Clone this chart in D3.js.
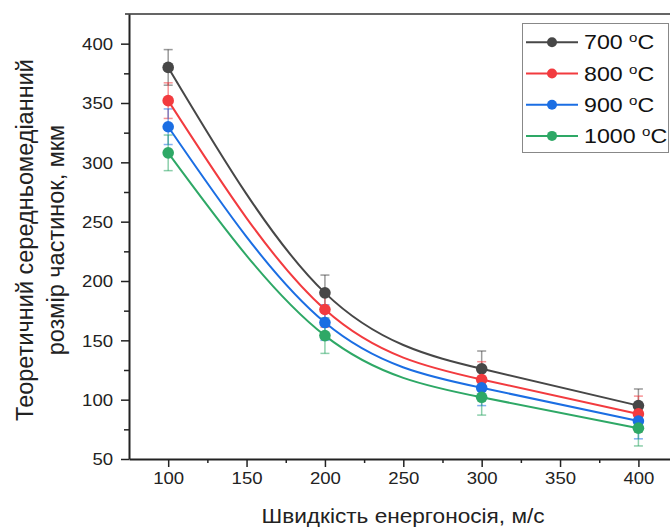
<!DOCTYPE html>
<html>
<head>
<meta charset="utf-8">
<script src="https://cdn.jsdelivr.net/npm/d3@7"></script>
<style>
    body { margin: 0; background: #fff; }
    svg { display: block; font-family: "Liberation Sans", Arial, sans-serif; }
</style>
</head>
<body>
<div id="chart"></div>
<script>
// speed of carrier, m/s
const speeds = [100, 200, 300, 400];

const temperatures = ["700", "800", "900", "1000"];
const size700 = [380, 190, 126, 95];
const size800 = [352, 176, 117, 88];
const size900 = [330, 165, 110, 82];
const size1000 = [308, 154, 102, 76];
const err700 = [15, 15, 15, 14];
const err800 = [15, 15, 15, 15];
const err900 = [15, 15, 15, 15];
const err1000 = [15, 15, 15, 15];

const xTicks = [100, 150, 200, 250, 300, 350, 400];
const yTicks = [50, 100, 150, 200, 250, 300, 350, 400];

const colors = ["#474747", "#f23b3f", "#1b6ee3", "#2ea866"];

const series = [
    {name: temperatures[0], values: size700, errors: err700},
    {name: temperatures[1], values: size800, errors: err800},
    {name: temperatures[2], values: size900, errors: err900},
    {name: temperatures[3], values: size1000, errors: err1000}
];

const width = 670, height = 529;
const margin = {top: 14, left: 129, bottom: 70};
// the source picture is a bit wider than tall, so horizontal text is stretched
const SX = 1.16;

const svg = d3.select("#chart")
    .append("svg")
    .attr("width", width)
    .attr("height", height);

const x = d3.scaleLinear()
    .domain([75, 425])
    .range([margin.left, 677.6]);

const y = d3.scaleLinear()
    .domain([50, 425])
    .range([459, margin.top]);

// frame top and right
svg.append("path")
    .attr("d", "M" + (margin.left - 4) + "," + y(425) + "H" + x(425) + "V" + y(50))
    .attr("fill", "none")
    .attr("stroke", "#333")
    .attr("stroke-width", 1.6);

// minor ticks
const xMinor = d3.range(125, 400, 50);
const yMinor = d3.range(75, 425, 50);

svg.append("g")
    .attr("transform", "translate(0," + y(50) + ")")
    .call(d3.axisBottom(x).tickValues(xMinor).tickSize(4).tickFormat(""))
    .call(g => g.select(".domain").remove())
    .call(g => g.selectAll("line").attr("stroke", "#222").attr("stroke-width", 1.5));

svg.append("g")
    .attr("transform", "translate(" + margin.left + ",0)")
    .call(d3.axisLeft(y).tickValues(yMinor).tickSize(5).tickFormat(""))
    .call(g => g.select(".domain").remove())
    .call(g => g.selectAll("line").attr("stroke", "#222").attr("stroke-width", 1.5));

// major axes
const xAxis = svg.append("g")
    .attr("transform", "translate(0," + y(50) + ")")
    .call(d3.axisBottom(x).tickValues(xTicks).tickSize(8).tickPadding(6).tickSizeOuter(0));

const yAxis = svg.append("g")
    .attr("transform", "translate(" + margin.left + ",0)")
    .call(d3.axisLeft(y).tickValues(yTicks).tickSize(8).tickPadding(8).tickSizeOuter(0));

[xAxis, yAxis].forEach(g => {
    g.select(".domain").attr("stroke", "#222").attr("stroke-width", 2);
    g.selectAll(".tick line").attr("stroke", "#222").attr("stroke-width", 1.5);
    g.selectAll(".tick text")
        .attr("fill", "#222")
        .style("font-size", "16px")
        .style("font-family", "'Liberation Sans', Arial, sans-serif")
        .attr("x", function() { return (+d3.select(this).attr("x") || 0) / SX; })
        .attr("transform", "scale(" + SX + ",1)");
});
yAxis.selectAll(".tick text").attr("dy", "0.36em");

// axis titles
svg.append("text")
    .attr("transform", "translate(403,523) scale(" + SX + ",1)")
    .attr("text-anchor", "middle")
    .attr("fill", "#222")
    .style("font-size", "19.5px")
    .text("Швидкість енергоносія, м/с");

const yTitle = svg.append("text")
    .attr("transform", "translate(33,240) rotate(-90)")
    .attr("text-anchor", "middle")
    .attr("fill", "#222")
    .style("font-size", "23.5px");
yTitle.append("tspan").attr("x", 0).attr("y", 0).text("Теоретичний середньомедіанний");
yTitle.append("tspan").attr("x", 0).attr("y", 31).text("розмір частинок, мкм");

// error bars
series.forEach((s, i) => {
    const g = svg.append("g")
        .attr("stroke", colors[i])
        .attr("stroke-opacity", 0.55)
        .attr("stroke-width", 1.5);
    speeds.forEach((v, j) => {
        const cx = x(v);
        const top = y(s.values[j] + s.errors[j]);
        const bot = y(s.values[j] - s.errors[j]);
        g.append("line").attr("x1", cx).attr("x2", cx).attr("y1", top).attr("y2", bot);
        g.append("line").attr("x1", cx - 4.5).attr("x2", cx + 4.5).attr("y1", top).attr("y2", top);
        g.append("line").attr("x1", cx - 4.5).attr("x2", cx + 4.5).attr("y1", bot).attr("y2", bot);
    });
});

// curves
const line = d3.line()
    .curve(d3.curveNatural)
    .x(d => x(d[0]))
    .y(d => y(d[1]));

series.forEach((s, i) => {
    svg.append("path")
        .datum(speeds.map((v, j) => [v, s.values[j]]))
        .attr("fill", "none")
        .attr("stroke", colors[i])
        .attr("stroke-width", 2)
        .attr("d", line);
});

// markers
series.forEach((s, i) => {
    svg.append("g")
        .selectAll("circle")
        .data(speeds.map((v, j) => [v, s.values[j]]))
        .enter()
        .append("circle")
        .attr("cx", d => x(d[0]))
        .attr("cy", d => y(d[1]))
        .attr("r", 5.8)
        .attr("fill", colors[i]);
});

// legend
const legend = svg.append("g");
legend.append("rect")
    .attr("x", 522.5)
    .attr("y", 23.5)
    .attr("width", 146)
    .attr("height", 129)
    .attr("fill", "#fff")
    .attr("stroke", "#888")
    .attr("stroke-width", 1);

series.forEach((s, i) => {
    const ly = 42.3 + i * 31.2;
    legend.append("line")
        .attr("x1", 526).attr("x2", 578)
        .attr("y1", ly).attr("y2", ly)
        .attr("stroke", colors[i])
        .attr("stroke-width", 2);
    legend.append("circle")
        .attr("cx", 552).attr("cy", ly).attr("r", 5)
        .attr("fill", colors[i]);
    const t = legend.append("text")
        .attr("transform", "translate(584," + (ly + 7) + ") scale(" + SX + ",1)")
        .attr("fill", "#111")
        .style("font-size", "20px");
    t.append("tspan").text(s.name + " ");
    t.append("tspan").attr("dy", -7).style("font-size", "13px").text("o");
    t.append("tspan").attr("dy", 7).text("C");
});
</script>
</body>
</html>
